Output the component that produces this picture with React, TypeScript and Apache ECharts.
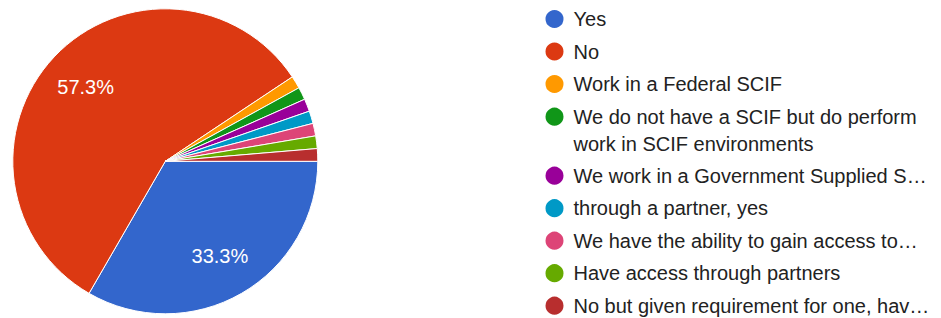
import React, { useEffect, useRef } from "react";
import * as echarts from "echarts";

const categories = [
  "Yes",
  "No",
  "Work in a Federal SCIF",
  "We do not have a SCIF but do perform work in SCIF environments",
  "We work in a Government Supplied S…",
  "through a partner, yes",
  "We have the ability to gain access to…",
  "Have access through partners",
  "No but given requirement for one, hav…",
];
const responses = [25, 43, 1, 1, 1, 1, 1, 1, 1];
const colors = [
  "#3366cc",
  "#dc3912",
  "#ff9900",
  "#109618",
  "#990099",
  "#0099c6",
  "#dd4477",
  "#66aa00",
  "#b82e2e",
];

const FONT = "'Liberation Sans', Arial, sans-serif";
const TEXT_COLOR = "#222222";

export default function App() {
  const ref = useRef<HTMLDivElement>(null);
  useEffect(() => {
    if (!ref.current) return;
    const chart = echarts.init(ref.current, undefined, { renderer: "svg" });
    const total = responses.reduce((a, b) => a + b, 0);
    const data = categories.map((name, i) => ({
      name,
      value: responses[i],
      itemStyle: { color: colors[i] },
    }));
    const legendBase = {
      orient: "vertical" as const,
      left: 543.5,
      padding: 0,
      icon: "circle",
      itemWidth: 20,
      itemHeight: 20,
      itemGap: 8.5,
      selectedMode: false,
      height: 160,
      textStyle: {
        fontFamily: FONT,
        fontSize: 20,
        color: TEXT_COLOR,
        lineHeight: 24,
        padding: [0, 0, 0, 4],
      },
    };
    chart.setOption({
      animation: false,
      backgroundColor: "#ffffff",
      legend: [
        { ...legendBase, top: 7, data: categories.slice(0, 3) },
        {
          ...legendBase,
          top: 76.2,
          data: categories.slice(3, 4),
          formatter: () =>
            " \nWe do not have a SCIF but do perform\nwork in SCIF environments",
          textStyle: { ...legendBase.textStyle, lineHeight: 27 },
        },
        { ...legendBase, top: 163.7, data: categories.slice(4) },
      ],
      series: [
        {
          type: "pie",
          center: [165.3, 161.3],
          radius: [0, 152.5],
          startAngle: 0,
          clockwise: true,
          silent: true,
          label: { show: false },
          labelLine: { show: false },
          itemStyle: { borderColor: "#ffffff", borderWidth: 1 },
          data,
        },
        {
          type: "pie",
          center: [165.3, 161.3],
          radius: [60, 152.5],
          startAngle: 0,
          clockwise: true,
          silent: true,
          itemStyle: { color: "transparent", borderWidth: 0 },
          label: {
            show: true,
            position: "inside",
            fontFamily: FONT,
            fontSize: 20,
            color: "#ffffff",
            formatter: (p: any) => {
              const pct = (p.value / total) * 100;
              return pct >= 5 ? pct.toFixed(1) + "%" : "";
            },
          },
          labelLine: { show: false },
          data: categories.map((name, i) => ({ name, value: responses[i] })),
        },
      ],
    });
    return () => chart.dispose();
  }, []);
  return (
    <div
      ref={ref}
      style={{ position: "fixed", left: 0, top: 0, width: 941, height: 318 }}
    />
  );
}
